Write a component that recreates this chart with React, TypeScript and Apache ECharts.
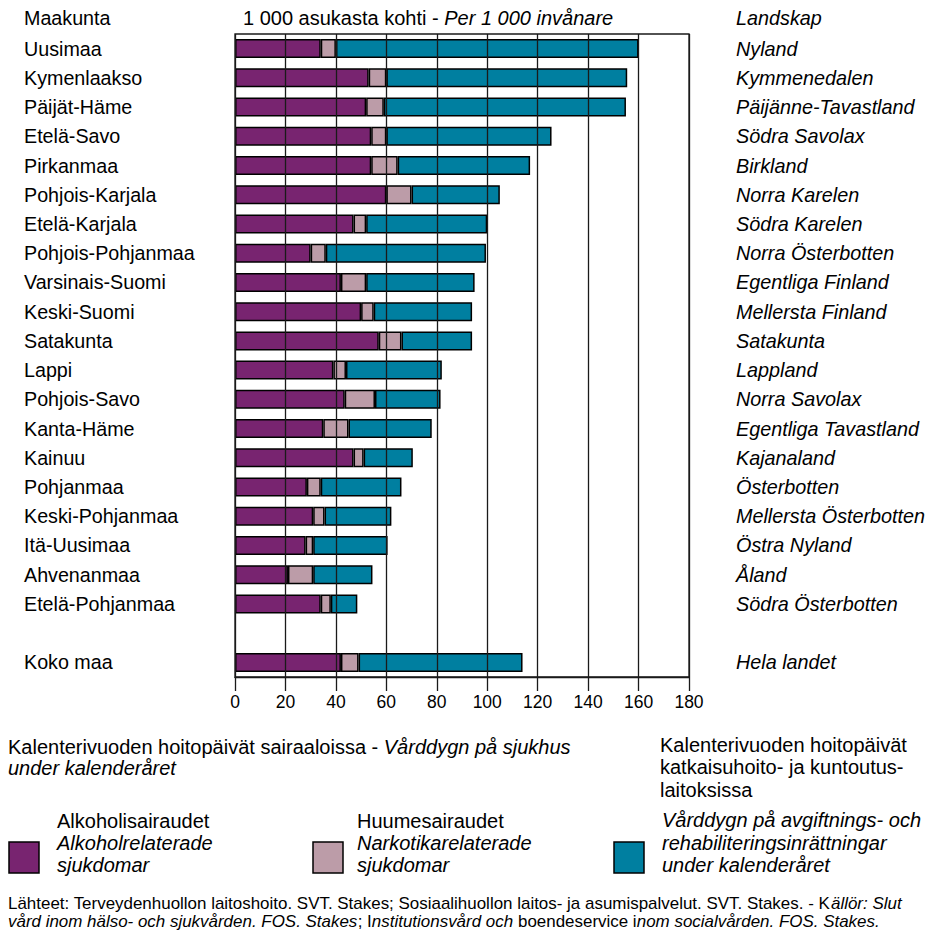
import React, { useEffect, useRef } from "react";
import * as echarts from "echarts";

const regionsFi = ["Uusimaa","Kymenlaakso","Päijät-Häme","Etelä-Savo","Pirkanmaa","Pohjois-Karjala","Etelä-Karjala","Pohjois-Pohjanmaa","Varsinais-Suomi","Keski-Suomi","Satakunta","Lappi","Pohjois-Savo","Kanta-Häme","Kainuu","Pohjanmaa","Keski-Pohjanmaa","Itä-Uusimaa","Ahvenanmaa","Etelä-Pohjanmaa","","Koko maa"];
const regionsSv = ["Nyland","Kymmenedalen","Päijänne-Tavastland","Södra Savolax","Birkland","Norra Karelen","Södra Karelen","Norra Österbotten","Egentliga Finland","Mellersta Finland","Satakunta","Lappland","Norra Savolax","Egentliga Tavastland","Kajanaland","Österbotten","Mellersta Österbotten","Östra Nyland","Åland","Södra Österbotten","","Hela landet"];
const alcohol = [34,53,52,54,54,60,47,30,42,50,57,39,43.5,35,47,28.5,31,28,21,34,null,42];
const drugs = [6,7,7,6,10.5,10,5,6,10,5,9,5,12,10,4,5.5,4.5,3,10,4,null,7];
const rehab = [120,95.5,96,65.5,52.5,35,48,63.5,43,39,28,38,26,33,19.5,32,26.5,29.5,23.5,10.5,null,65];
const xTicks = [0,20,40,60,80,100,120,140,160,180];

const FONT = "'Liberation Sans', Arial, sans-serif";
const PURPLE = "#782470";
const PINK = "#bc9ca8";
const TEAL = "#007fa0";
const LINE = "#1a1a1a";

export default function App() {
  const ref = useRef<HTMLDivElement>(null);
  useEffect(() => {
    if (!ref.current) return;
    const chart = echarts.init(ref.current, null, { renderer: "svg" });
    const rich = {
      n: { fontFamily: FONT, fontSize: 20, color: "#000" },
      i: { fontFamily: FONT, fontSize: 20, color: "#000", fontStyle: "italic" },
    };
    const richF = {
      n: { fontFamily: FONT, fontSize: 16, color: "#000" },
      i: { fontFamily: FONT, fontSize: 16, color: "#000", fontStyle: "italic" },
    };
    const txt = (x: number, y: number, text: string, opts: any = {}) => ({
      type: "text",
      x,
      y,
      style: {
        text,
        fontFamily: FONT,
        fontSize: 20,
        fill: "#000",
        textVerticalAlign: "middle",
        ...opts,
      },
    });
    const mkBar = (name: string, data: any[], color: string) => ({
      name,
      type: "bar",
      stack: "total",
      data,
      barWidth: 19,
      itemStyle: { color, borderColor: "#000", borderWidth: 1.5 },
      emphasis: { disabled: true },
    });
    chart.setOption({
      animation: false,
      grid: {
        left: 235,
        right: 240,
        top: 34,
        bottom: 258,
        show: true,
        borderColor: LINE,
        borderWidth: 1.3,
      },
      xAxis: {
        type: "value",
        min: xTicks[0],
        max: xTicks[xTicks.length - 1],
        interval: 20,
        z: 10,
        axisLine: { show: true, lineStyle: { color: LINE, width: 1.3 } },
        axisTick: { show: true, length: 14, lineStyle: { color: LINE, width: 1.3 } },
        splitLine: { show: true, lineStyle: { color: LINE, width: 1.3 } },
        axisLabel: { fontFamily: FONT, fontSize: 17.5, color: "#000", margin: 16 },
      },
      yAxis: [
        {
          type: "category",
          data: regionsFi,
          inverse: true,
          axisLine: { show: false },
          axisTick: { show: false },
          axisLabel: {
            align: "left",
            margin: 211,
            fontFamily: FONT,
            fontSize: 19.7,
            color: "#000",
          },
        },
        {
          type: "category",
          data: regionsSv,
          inverse: true,
          position: "right",
          axisLine: { show: false },
          axisTick: { show: false },
          axisLabel: {
            align: "left",
            margin: 47,
            fontFamily: FONT,
            fontSize: 19.8,
            fontStyle: "italic",
            color: "#000",
          },
        },
      ],
      series: [
        mkBar("Alkoholisairaudet", alcohol, PURPLE),
        mkBar("Huumesairaudet", drugs, PINK),
        mkBar("Katkaisuhoito", rehab, TEAL),
      ],
      graphic: [
        txt(24, 18, "Maakunta", { fontSize: 19.7 }),
        {
          type: "text",
          x: 243,
          y: 18,
          style: {
            text: "{n|1 000 asukasta kohti - }{i|Per 1 000 invånare}",
            rich,
            textVerticalAlign: "middle",
          },
        },
        txt(736, 18, "Landskap", { fontSize: 19.8, fontStyle: "italic" }),
        {
          type: "text",
          x: 8,
          y: 747,
          style: {
            text: "{n|Kalenterivuoden hoitopäivät sairaaloissa - }{i|Vårddygn på sjukhus}",
            rich,
            textVerticalAlign: "middle",
          },
        },
        txt(8, 768, "under kalenderåret", { fontStyle: "italic" }),
        txt(660, 745, "Kalenterivuoden hoitopäivät"),
        txt(660, 767, "katkaisuhoito- ja kuntoutus-"),
        txt(660, 790, "laitoksissa"),
        { type: "rect", shape: { x: 9, y: 842, width: 30, height: 31 }, style: { fill: PURPLE, stroke: "#000", lineWidth: 1.5 } },
        { type: "rect", shape: { x: 313, y: 842, width: 30, height: 31 }, style: { fill: PINK, stroke: "#000", lineWidth: 1.5 } },
        { type: "rect", shape: { x: 614, y: 842, width: 30, height: 31 }, style: { fill: TEAL, stroke: "#000", lineWidth: 1.5 } },
        txt(57, 821, "Alkoholisairaudet"),
        txt(57, 843, "Alkoholrelaterade", { fontStyle: "italic" }),
        txt(57, 865, "sjukdomar", { fontStyle: "italic" }),
        txt(357, 821, "Huumesairaudet"),
        txt(357, 843, "Narkotikarelaterade", { fontStyle: "italic" }),
        txt(357, 865, "sjukdomar", { fontStyle: "italic" }),
        txt(662, 820, "Vårddygn på avgiftnings- och", { fontStyle: "italic" }),
        txt(662, 843, "rehabiliteringsinrättningar", { fontStyle: "italic" }),
        txt(662, 865, "under kalenderåret", { fontStyle: "italic" }),
        {
          type: "text",
          x: 8,
          y: 903,
          scaleX: 1.06,
          style: {
            text: "{n|Lähteet: Terveydenhuollon laitoshoito. SVT. Stakes; Sosiaalihuollon laitos- ja asumispalvelut. SVT. Stakes. - K}{i|ällör: Slut}",
            rich: richF,
            textVerticalAlign: "middle",
          },
        },
        {
          type: "text",
          x: 8,
          y: 921,
          scaleX: 1.06,
          style: {
            text: "{i|vård inom hälso- och sjukvården. FOS. Stakes}{n|; I}{i|nstitutionsvård och }{n|boendeservice i}{i|nom socialvården. FOS. Stakes.}",
            rich: richF,
            textVerticalAlign: "middle",
          },
        },
      ],
    });
    return () => chart.dispose();
  }, []);
  return (
    <div
      ref={ref}
      style={{ position: "fixed", left: 0, top: 0, width: 929, height: 935, background: "#fff" }}
    />
  );
}
